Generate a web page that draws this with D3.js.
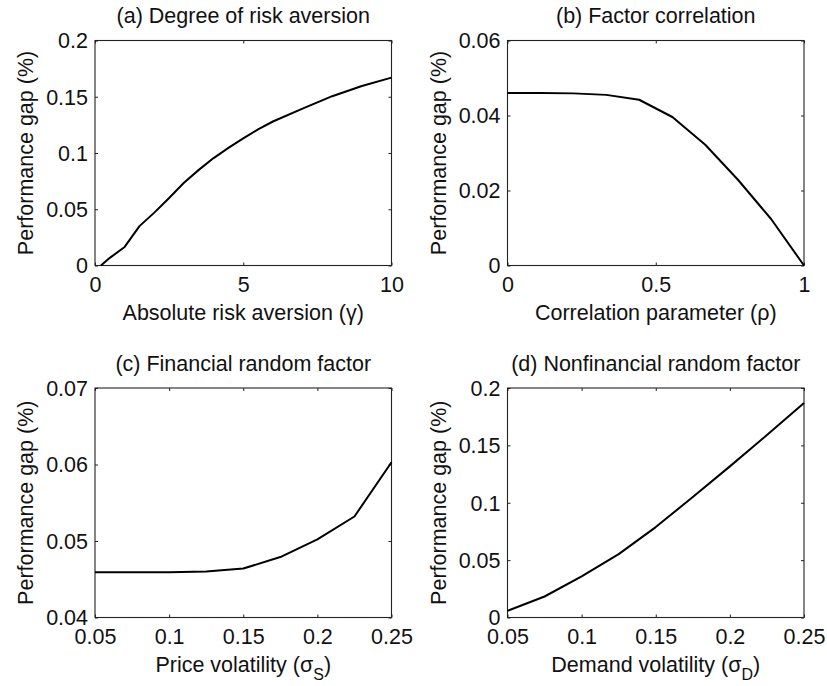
<!DOCTYPE html>
<html>
<head>
<meta charset="utf-8">
<script src="https://cdn.jsdelivr.net/npm/d3@7"></script>
<style>
  html, body { margin: 0; padding: 0; background: #fff; }
  svg { display: block; }
  text { font-family: "Liberation Sans", Arial, sans-serif; fill: #111; }
</style>
</head>
<body>
<svg id="chart" width="827" height="686"></svg>
<script>
// ---- Data ----
// (a) Degree of risk aversion
const gammaX = [0.2, 0.5, 1, 1.5, 2, 2.5, 3, 3.5, 4, 4.5, 5, 5.5, 6, 7, 8, 9, 10];
const gammaY = [0.000, 0.0068, 0.0165, 0.0350, 0.047, 0.060, 0.0735, 0.085, 0.0955, 0.1045, 0.113, 0.121, 0.128, 0.1395, 0.1505, 0.1595, 0.167];
// (b) Factor correlation
const rhoX = [0, 0.111, 0.222, 0.333, 0.444, 0.556, 0.667, 0.778, 0.889, 1];
const rhoY = [0.0460, 0.0460, 0.0459, 0.0455, 0.0442, 0.0396, 0.0322, 0.0228, 0.0124, 0.0];
// (c) Financial random factor
const sigmaSX = [0.05, 0.075, 0.1, 0.125, 0.15, 0.175, 0.2, 0.225, 0.25];
const sigmaSY = [0.0459, 0.0459, 0.0459, 0.0460, 0.0464, 0.0479, 0.0502, 0.0532, 0.0603];
// (d) Nonfinancial random factor
const sigmaDX = [0.05, 0.075, 0.1, 0.125, 0.15, 0.175, 0.2, 0.225, 0.25];
const sigmaDY = [0.0058, 0.0183, 0.0358, 0.0552, 0.0788, 0.105, 0.1317, 0.159, 0.187];

// Tick values and labels
const ticksXa = [0, 5, 10];
const ticksYa = [0, 0.05, 0.1, 0.15, 0.2];
const ticksXb = [0, 0.5, 1];
const ticksYb = [0, 0.02, 0.04, 0.06];
const ticksXc = [0.05, 0.1, 0.15, 0.2, 0.25];
const ticksYc = [0.04, 0.05, 0.06, 0.07];
const ticksXd = [0.05, 0.1, 0.15, 0.2, 0.25];
const ticksYd = [0, 0.05, 0.1, 0.15, 0.2];

const titles = ["(a) Degree of risk aversion", "(b) Factor correlation", "(c) Financial random factor", "(d) Nonfinancial random factor"];
const yLabel = "Performance gap (%)";
const xLabels = [
  {main: "Absolute risk aversion (\u03B3)", sub: null},
  {main: "Correlation parameter (\u03C1)", sub: null},
  {main: "Price volatility (\u03C3", sub: "S", tail: ")"},
  {main: "Demand volatility (\u03C3", sub: "D", tail: ")"}
];

// ---- Layout ----
const FS = 21.5;
const panels = [
  {x0: 95, x1: 391.5, y0: 40.5, y1: 265.5, xd: [0, 10], yd: [0, 0.2], xs: gammaX, ys: gammaY, tx: ticksXa, ty: ticksYa},
  {x0: 507.5, x1: 804, y0: 40.5, y1: 265.5, xd: [0, 1], yd: [0, 0.06], xs: rhoX, ys: rhoY, tx: ticksXb, ty: ticksYb},
  {x0: 95, x1: 391.5, y0: 388, y1: 617.5, xd: [0.05, 0.25], yd: [0.04, 0.07], xs: sigmaSX, ys: sigmaSY, tx: ticksXc, ty: ticksYc},
  {x0: 507.5, x1: 804, y0: 388, y1: 617.5, xd: [0.05, 0.25], yd: [0, 0.2], xs: sigmaDX, ys: sigmaDY, tx: ticksXd, ty: ticksYd}
];

const svg = d3.select("#chart");

panels.forEach((p, i) => {
  const x = d3.scaleLinear().domain(p.xd).range([p.x0, p.x1]);
  const y = d3.scaleLinear().domain(p.yd).range([p.y1, p.y0]);
  const g = svg.append("g");

  // bottom axis (inward ticks)
  const gb = g.append("g").attr("transform", `translate(0,${p.y1})`)
    .call(d3.axisBottom(x).tickValues(p.tx).tickSize(-3).tickFormat(d => String(d)));
  gb.selectAll("text").attr("y", 26.5).attr("dy", null).style("font-size", FS + "px").style("fill", "#111");
  // top axis ticks
  g.append("g").attr("transform", `translate(0,${p.y0})`)
    .call(d3.axisTop(x).tickValues(p.tx).tickSize(-3).tickFormat(""));
  // left axis
  const gl = g.append("g").attr("transform", `translate(${p.x0},0)`)
    .call(d3.axisLeft(y).tickValues(p.ty).tickSize(-3).tickPadding(7).tickFormat(d => String(d)));
  gl.selectAll("text").attr("dy", "0.34em").style("font-size", FS + "px").style("fill", "#111");
  // right axis ticks
  g.append("g").attr("transform", `translate(${p.x1},0)`)
    .call(d3.axisRight(y).tickValues(p.ty).tickSize(-3).tickFormat(""));

  g.selectAll(".domain").remove();
  g.selectAll(".tick line").attr("stroke", "#222").attr("stroke-width", 1);

  // box
  g.append("rect").attr("x", p.x0).attr("y", p.y0)
    .attr("width", p.x1 - p.x0).attr("height", p.y1 - p.y0)
    .attr("fill", "none").attr("stroke", "#222").attr("stroke-width", 1.1);

  // data line
  const pts = p.xs.map((v, k) => [v, p.ys[k]]);
  g.append("path").datum(pts)
    .attr("fill", "none").attr("stroke", "#000").attr("stroke-width", 2)
    .attr("stroke-linejoin", "round")
    .attr("d", d3.line().x(d => x(d[0])).y(d => y(d[1])));

  const cx = (p.x0 + p.x1) / 2;
  const cy = (p.y0 + p.y1) / 2;

  // title
  g.append("text").attr("x", cx).attr("y", p.y0 - 17.3)
    .attr("text-anchor", "middle").style("font-size", FS + "px").text(titles[i]);

  // y label
  g.append("text").attr("transform", `translate(${p.x0 - 62},${cy}) rotate(-90)`)
    .attr("text-anchor", "middle").style("font-size", FS + "px").text(yLabel);

  // x label
  const xl = g.append("text").attr("x", cx).attr("y", p.y1 + 54.5)
    .attr("text-anchor", "middle").style("font-size", FS + "px");
  const lab = xLabels[i];
  xl.append("tspan").text(lab.main);
  if (lab.sub) {
    xl.append("tspan").attr("dy", 8).style("font-size", "16px").text(lab.sub);
    xl.append("tspan").attr("dy", -8).text(lab.tail);
  }
});
</script>
</body>
</html>
